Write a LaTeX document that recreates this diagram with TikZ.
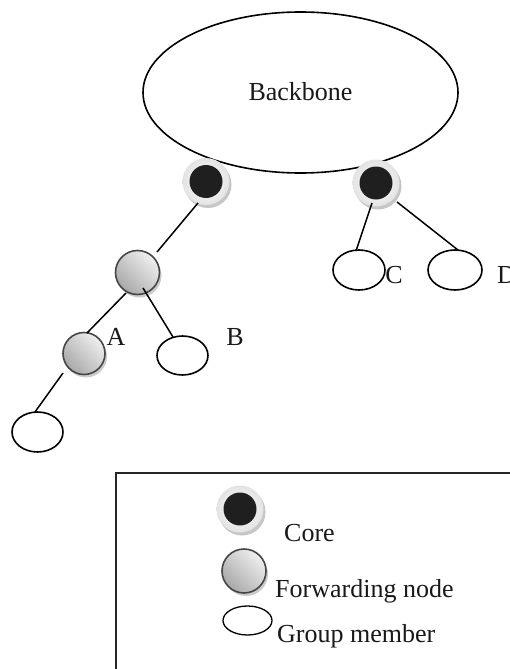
\documentclass[tikz,border=0pt]{standalone}
\usepackage{fontspec}
\setmainfont{Liberation Serif}
\usetikzlibrary{calc,shapes.geometric,shadows}

\tikzset{
  lbl/.style={font=\fontsize{26}{30}\selectfont, inner sep=0pt, text=black!90},
  member/.style={ellipse, draw=black, line width=1.6pt, fill=white, inner sep=0pt},
  corenode/.style={circle, minimum size=47pt, inner sep=0pt,
    shading=radial, inner color=white, outer color=gray!22,
    drop shadow={shadow xshift=2pt, shadow yshift=-3pt, fill=gray!45, opacity=1},
    path picture={\fill[black!88] (path picture bounding box.center) circle (16.5pt);}},
  fwdnode/.style={circle, minimum size=44pt, inner sep=0pt, draw=gray!55!black, line width=1.6pt,
    top color=gray!12, bottom color=gray!68, shading angle=-45,
    drop shadow={shadow xshift=2pt, shadow yshift=-3pt, fill=gray!40, opacity=1}},
  link/.style={line width=1.5pt, draw=black},
}

\begin{document}
\begin{tikzpicture}[x=1pt, y=-1pt]
  \useasboundingbox (0,0) rectangle (510,669);
  \clip (0,0) rectangle (510,669);
  \fill[white] (0,0) rectangle (510,669);

  % backbone cloud
  \node[ellipse, draw=black, line width=1.6pt, minimum width=315pt, minimum height=161pt, inner sep=0pt]
    (bb) at (300.5,92.5) {};
  \node[lbl, anchor=base] (bbtext) at (300.5,100) {Backbone};

  % cores
  \node[corenode] (c1) at (206,181.5) {};
  \node[corenode] (c2) at (376,183) {};

  % forwarding nodes
  \node[fwdnode] (f1) at (137.5,272.5) {};
  \node[fwdnode, minimum size=42pt] (fa) at (84,353.5) {};

  % group members
  \node[member, minimum width=51pt, minimum height=39pt] (mb) at (182.5,355.5) {};
  \node[member, minimum width=52pt, minimum height=40pt] (mc) at (359,270) {};
  \node[member, minimum width=54pt, minimum height=40pt] (md) at (455,270) {};
  \node[member, minimum width=51pt, minimum height=40pt] (m0) at (37.5,432) {};

  % labels
  \node[lbl, anchor=base] (la) at (116,345) {A};
  \node[lbl, anchor=base] (lb) at (235,345) {B};
  \node[lbl, anchor=base] (lc) at (394,283.5) {C};
  \node[lbl, anchor=base west] (ld) at (497,283.5) {D};

  % tree links
  \draw[link] ($(c1)+(249.6:22.9pt)$) -- ($(f1)+(46.4:28.3pt)$);
  \draw[link] ($(f1)+(240.7:23.5pt)$) -- ($(fa)+(81.7:20.7pt)$);
  \draw[link] ($(f1)+(289.5:16.4pt)$) -- ($(mb)+(117.2:20.8pt)$);
  \draw[link] ($(fa)+(222.9:28.7pt)$) -- ($(m0)+(97.1:20.2pt)$);
  \draw[link] ($(c2)+(258.7:20.4pt)$) -- ($(mc)+(99:19.2pt)$);
  \draw[link] ($(c2)+(317.9:28.3pt)$) -- ($(md)+(81.5:20.2pt)$);

  % legend
  \draw[line width=1.8pt, draw=black!85] (116,700) -- (116,473) -- (540,473);
  \node[corenode] (kc) at (240,509) {};
  \node[lbl, anchor=base west] (kct) at (284,541) {Core};
  \node[fwdnode] (kf) at (244,571) {};
  \node[lbl, anchor=base west] (kft) at (275,597) {Forwarding node};
  \node[member, minimum width=49pt, minimum height=29pt, line width=1.3pt] (km) at (247.5,620.5) {};
  \node[lbl, anchor=base west] (kmt) at (277,642) {Group member};
\end{tikzpicture}
\end{document}
